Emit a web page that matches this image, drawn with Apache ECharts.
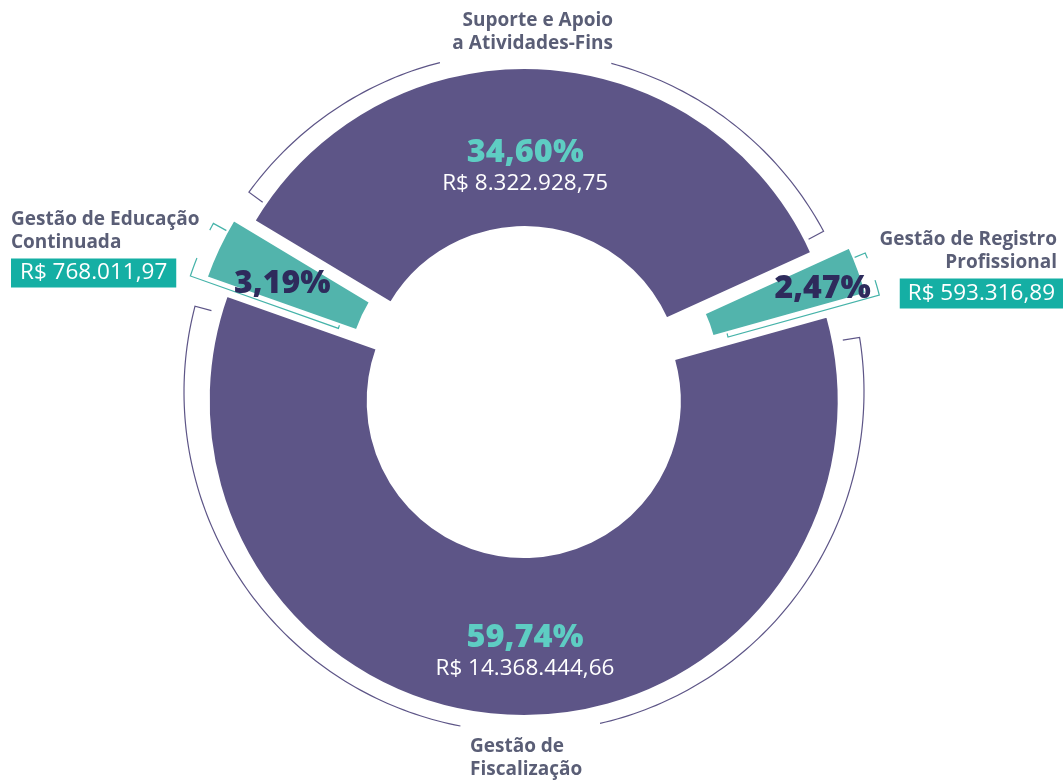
<!DOCTYPE html>
<html>
<head>
<meta charset="utf-8">
<title>Despesas por área</title>
<script src="https://cdn.jsdelivr.net/npm/echarts@6/dist/echarts.min.js"></script>
<style>
  html, body { margin: 0; padding: 0; background: #fff; }
  #main { width: 1063px; height: 781px; }
</style>
</head>
<body>
<div id="main"></div>
<script>
// dados (ordem horária, começando no alto à esquerda)
const categories = [
  'Suporte e Apoio\na Atividades-Fins',
  'Gestão de Registro\nProfissional',
  'Gestão de\nFiscalização',
  'Gestão de Educação\nContinuada'
];
const values = [8322928.75, 593316.89, 14368444.66, 768011.97];
const highlight = [false, true, false, true]; // fatias verdes com valor em caixa

// cores / fontes
const PURPLE = '#5d5587';
const TEAL = '#52b4ac';
const TEAL_LINE = '#45b3a9';
const TEAL_TXT = '#5ecdc3';
const BOX = '#15afa4';
const DARK = '#2e2b5c';
const GREY = '#5a5e76';
const FONT = '"Open Sans", "Noto Sans", sans-serif';

// geometria
const CENTER = [524, 392];
const R_IN = 156, R_OUT = 315;
const START = 149;
const OFFSET = [9, 41, 9, 22.5];                       // deslocamento de cada fatia
const LABEL_SHIFT = [[-13, 21.5], [36, -8], [9.5, 12], [-5.6, 3]];
const NAME_POS = [
  {x: 619, y: 9.5, align: 'right'},
  {x: 1063, y: 228.5, align: 'right'},
  {x: 470, y: 735, align: 'left'},
  {x: 11, y: 208.5, align: 'left'}
];
// colchetes em volta das fatias
const BRACKETS = [
  {kind: 'arc', off: 0, r: 340, tick: 17, inS: 5, inE: 3.8, gap: [-11.6, 17.6], color: PURPLE},
  {kind: 'edge', off: 54.5, r: 314, r0: 157, p: 6, full: 'end', inT: 1.9, tick: 14, gap: [-2.7, 1.5], inTick: 4, color: TEAL_LINE},
  {kind: 'arc', off: 0, r: 340, tick: 17, inS: 6.3, inE: 4.9, gap: [-8.8, 14.9], color: PURPLE},
  {kind: 'edge', off: 39.5, r: 314, r0: 157, p: 6, full: 'start', inT: 2.1, tick: 15, gap: [-2.25, 3.35], inTick: 4, color: TEAL_LINE}
];

const total = values.reduce((a, b) => a + b, 0);

function brl(v) {
  const parts = v.toFixed(2).split('.');
  return 'R$ ' + parts[0].replace(/\B(?=(\d{3})+(?!\d))/g, '.') + ',' + parts[1];
}
function pct(i) {
  return (values[i] / total * 100).toFixed(2).replace('.', ',') + '%';
}

// ângulos das bordas de cada fatia (graus, anti-horário a partir das 3h)
const edges = [];
let acc = 0;
values.forEach(v => {
  const a0 = START - acc / total * 360;
  acc += v;
  edges.push([a0, START - acc / total * 360]);
});
const norm = a => ((a % 360) + 360) % 360;

function sliceSeries(show, offset) {
  return {
    type: 'pie',
    center: CENTER,
    radius: [R_IN, R_OUT],
    startAngle: START,
    clockwise: true,
    selectedMode: 'multiple',
    selectedOffset: offset,
    avoidLabelOverlap: false,
    silent: true,
    emphasis: {disabled: true},
    labelLine: {show: false},
    label: {
      position: 'inside',
      formatter: p => highlight[p.dataIndex]
        ? '{d|' + pct(p.dataIndex) + '}'
        : '{p|' + pct(p.dataIndex) + '}\n{m|' + brl(values[p.dataIndex]) + '}',
      rich: {
        p: {fontFamily: FONT, fontSize: 32.5, fontWeight: 800, color: TEAL_TXT, lineHeight: 34},
        m: {fontFamily: FONT, fontSize: 22.5, color: '#fff', lineHeight: 28},
        d: {fontFamily: FONT, fontSize: 32, fontWeight: 800, color: DARK, lineHeight: 34}
      }
    },
    labelLayout: p => show.includes(p.dataIndex)
      ? {dx: LABEL_SHIFT[p.dataIndex][0], dy: LABEL_SHIFT[p.dataIndex][1]}
      : {},
    data: categories.map((c, i) => {
      const on = show.includes(i);
      return {
        name: c,
        value: values[i],
        selected: on,
        itemStyle: on
          ? {color: highlight[i] ? TEAL : PURPLE, borderColor: '#fff', borderWidth: 2}
          : {color: 'rgba(0,0,0,0)', borderWidth: 0},
        label: {show: on}
      };
    })
  };
}

const nameSeries = {
  type: 'pie',
  center: CENTER,
  radius: [R_IN, R_OUT],
  startAngle: START,
  silent: true,
  avoidLabelOverlap: false,
  emphasis: {disabled: true},
  itemStyle: {color: 'rgba(0,0,0,0)'},
  labelLine: {show: false},
  label: {
    position: 'outside',
    formatter: p => {
      const i = p.dataIndex;
      const side = NAME_POS[i].align === 'right' ? 'R' : 'L';
      let s = categories[i].split('\n').map(t => '{n' + side + '|' + t + '}').join('\n');
      if (highlight[i]) s += '\n{s| }\n{b' + side + '|' + brl(values[i]) + '}';
      return s;
    },
    rich: {
      nL: {align: 'left', fontFamily: FONT, fontSize: 19, fontWeight: 700, color: GREY, lineHeight: 23},
      nR: {align: 'right', fontFamily: FONT, fontSize: 19, fontWeight: 700, color: GREY, lineHeight: 23, padding: [0, 6, 0, 0]},
      s: {fontSize: 1, lineHeight: 4, height: 4},
      bL: {align: 'left', fontFamily: FONT, fontSize: 22.5, color: '#fff', backgroundColor: BOX, height: 29, lineHeight: 29, padding: [0, 9]},
      bR: {align: 'right', fontFamily: FONT, fontSize: 22.5, color: '#fff', backgroundColor: BOX, height: 30, lineHeight: 30, padding: [0, 8]}
    }
  },
  labelLayout: p => ({
    x: NAME_POS[p.dataIndex].x,
    y: NAME_POS[p.dataIndex].y,
    align: NAME_POS[p.dataIndex].align,
    verticalAlign: 'top'
  }),
  data: categories.map((c, i) => ({name: c, value: values[i]}))
};

function renderBracket(params, api) {
  const i = api.value(2);
  const b = BRACKETS[i];
  const a0 = edges[i][0], a1 = edges[i][1];
  const mid = (a0 + a1) / 2;
  const c0 = api.coord([0, 0]);
  const om = api.coord([b.off, norm(mid)]);
  const ox = om[0] - c0[0], oy = om[1] - c0[1];
  const pt = (r, a) => {
    const q = api.coord([r, norm(a)]);
    return [q[0] + ox, q[1] + oy];
  };
  const arc = (r, from, to) => {
    const n = Math.max(2, Math.ceil(Math.abs(to - from)));
    const out = [];
    for (let k = 0; k <= n; k++) out.push(pt(r, from + (to - from) * k / n));
    return out;
  };
  const lines = [];
  if (b.kind === 'arc') {
    const s = a0 - b.inS, e = a1 + b.inE;
    lines.push([pt(b.r - b.tick, s)].concat(arc(b.r, s, mid + b.gap[1])));
    lines.push(arc(b.r, mid + b.gap[0], e).concat([pt(b.r - b.tick, e)]));
  } else {
    const sF = b.full === 'start' ? 1 : -1;
    const aF = sF > 0 ? a0 : a1;
    const aT = sF > 0 ? a1 : a0;
    const rad = 180 / Math.PI;
    const outA = aF + sF * Math.atan(b.p / b.r) * rad;
    const inA = aF + sF * Math.atan(b.p / b.r0) * rad;
    const tickA = aT + sF * b.inT;
    const near = sF > 0 ? mid + b.gap[1] : mid + b.gap[0];
    const far = sF > 0 ? mid + b.gap[0] : mid + b.gap[1];
    lines.push([pt(b.r0, inA - sF * b.inTick / b.r0 * rad), pt(b.r0, inA)].concat(arc(b.r, outA, near)));
    lines.push(arc(b.r, far, tickA).concat([pt(b.r - b.tick, tickA)]));
  }
  return {
    type: 'group',
    children: lines.map(pts => ({
      type: 'polyline',
      shape: {points: pts},
      style: {stroke: b.color, lineWidth: 1.2, fill: null}
    }))
  };
}

const chart = echarts.init(document.getElementById('main'), null, {renderer: 'canvas'});
chart.setOption({
  animation: false,
  backgroundColor: '#fff',
  polar: {center: CENTER, radius: 400},
  angleAxis: {
    type: 'value', min: 0, max: 360, startAngle: 0, clockwise: false, show: false,
    axisLine: {show: false}, splitLine: {show: false}, axisTick: {show: false}, axisLabel: {show: false}
  },
  radiusAxis: {
    type: 'value', min: 0, max: 400, show: false,
    axisLine: {show: false}, splitLine: {show: false}, axisTick: {show: false}, axisLabel: {show: false}
  },
  series: [
    sliceSeries([0, 2], OFFSET[0]),
    sliceSeries([3], OFFSET[3]),
    sliceSeries([1], OFFSET[1]),
    nameSeries,
    {
      type: 'custom',
      coordinateSystem: 'polar',
      silent: true,
      renderItem: renderBracket,
      data: categories.map((c, i) => [0, 0, i])
    }
  ]
});
</script>
</body>
</html>
